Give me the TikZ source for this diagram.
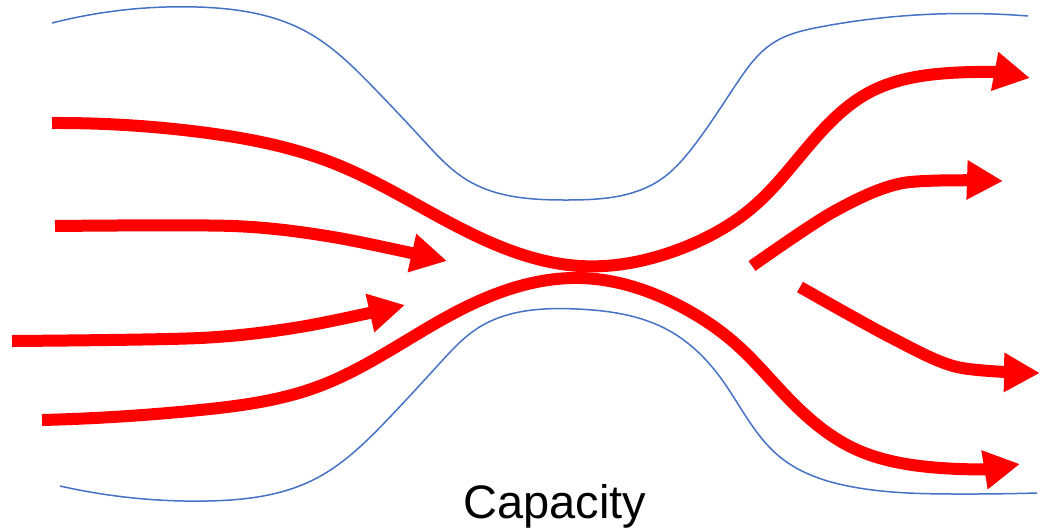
\documentclass[tikz,border=0pt]{standalone}
\usepackage{fontspec}
\setmainfont{Liberation Sans}
\usetikzlibrary{arrows.meta,hobby}
\definecolor{wallblue}{RGB}{68,114,196}
\begin{document}
\begin{tikzpicture}[x=1pt,y=-1pt,
  wall/.style={draw=wallblue,line width=1.5pt,use Hobby shortcut},
  flow/.style={draw=red,line width=12pt},
  flowarrow/.style={flow,-{Triangle[length=36pt,width=37pt]}}]
\useasboundingbox (0,0) rectangle (1041,528);
% channel walls
\draw[wall] (52,23) .. (197,7) .. (307,32) .. (373,87) .. (423,140) .. (467,180) .. (567,200) .. (660,180) .. (693,147) .. (737,83) .. (773,43) .. (820,27) .. (937,14) .. (1028,16);
\draw[wall] (60,486) .. (207,501) .. (313,480) .. (390,417) .. (440,363) .. (478,328) .. (577,309) .. (668,330) .. (720,377) .. (780,457) .. (853,487) .. (953,494) .. (1037,493);
% flows
\draw[flowarrow,use Hobby shortcut] (52,123) .. (200,132) .. (333,163) .. (460,228) .. (580,266) .. (680,249) .. (753,207) .. (820,133) .. (870,92) .. (937,74) .. (1030,78);
\draw[flowarrow,use Hobby shortcut] (42,420) .. (200,410) .. (317,387) .. (460,310) .. (580,278) .. (680,306) .. (737,345) .. (787,397) .. (853,448) .. (920,466) .. (1020,464);
\draw[flowarrow] plot[smooth] coordinates {(55,226) (233,226) (333,237) (447,261)};
\draw[flowarrow] plot[smooth] coordinates {(12,341) (200,338) (300,327) (405,305)};
\draw[flowarrow] plot[smooth] coordinates {(752,266) (833,212) (903,183) (1003,181)};
\draw[flowarrow] plot[smooth] coordinates {(800,287) (890,337) (957,367) (1040,373)};
\node[anchor=base,inner sep=0pt,font=\fontsize{47}{50}\selectfont] (cap) at (555,518) {Capacity};
\end{tikzpicture}
\end{document}
